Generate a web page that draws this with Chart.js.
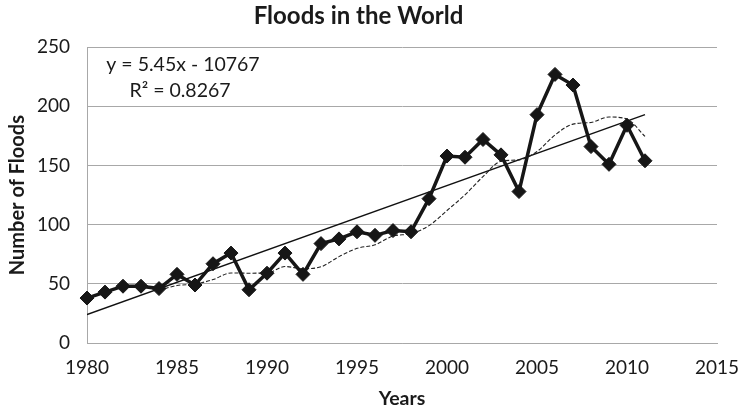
<!DOCTYPE html>
<html>
<head>
<meta charset="utf-8">
<script src="https://cdn.jsdelivr.net/npm/chart.js@4/dist/chart.umd.min.js"></script>
<style>
  html, body { margin: 0; padding: 0; background: #fff; }
  #wrap { width: 740px; height: 410px; }
</style>
</head>
<body>
<div id="wrap"><canvas id="floods"></canvas></div>
<script>
// yearly flood counts
const years = [1980, 1981, 1982, 1983, 1984, 1985, 1986, 1987, 1988, 1989,
               1990, 1991, 1992, 1993, 1994, 1995, 1996, 1997, 1998, 1999,
               2000, 2001, 2002, 2003, 2004, 2005, 2006, 2007, 2008, 2009,
               2010, 2011];
const floods = [38, 43, 48, 48, 46, 58, 49, 67, 76, 45,
                59, 76, 58, 84, 88, 94, 91, 95, 94, 122,
                158, 157, 172, 159, 128, 193, 227, 218, 166, 151,
                184, 154];

// dashed 5-year moving average (starts 1984)
const maYears = [1984, 1985, 1986, 1987, 1988, 1989, 1990, 1991, 1992, 1993,
                 1994, 1995, 1996, 1997, 1998, 1999, 2000, 2001, 2002, 2003,
                 2004, 2005, 2006, 2007, 2008, 2009, 2010, 2011];
const maValues = [44.6, 48.6, 49.8, 53.6, 59.2, 59, 59.2, 64.6, 62.8, 64.4,
                  73, 80, 83, 90.4, 92.4, 99.2, 112, 125.2, 140.6, 153.6,
                  154.8, 161.8, 175.8, 185, 186.4, 191, 189.2, 174.6];

// linear trend line end points
const trendYears = [1980, 2011];
const trendValues = [24, 193];

const equationLines = ["y = 5.45x - 10767", "R\u00b2 = 0.8267"];

const xTicks = [1980, 1985, 1990, 1995, 2000, 2005, 2010, 2015];
const yTicks = [0, 50, 100, 150, 200, 250];

const toPoints = (xs, ys) => xs.map((x, i) => ({ x: x, y: ys[i] }));

const FONT = "Lato, 'Open Sans', sans-serif";
const ink = "#1a1a1a";
const gridGrey = "#a8a8a8";

// trendline equation text, top left of the plot
const equationLabel = {
  id: "equationLabel",
  afterDatasetsDraw(chart) {
    const ctx = chart.ctx;
    ctx.save();
    ctx.font = "19.5px " + FONT;
    ctx.fillStyle = ink;
    ctx.textAlign = "center";
    ctx.textBaseline = "middle";
    ctx.fillText(equationLines[0], 183, 65);
    ctx.fillText(equationLines[1], 180, 91);
    ctx.restore();
  }
};

new Chart(document.getElementById("floods"), {
  type: "scatter",
  data: {
    datasets: [
      {
        label: "Linear",
        data: toPoints(trendYears, trendValues),
        showLine: true,
        borderColor: "#111",
        borderWidth: 1.4,
        pointRadius: 0,
        order: 2
      },
      {
        label: "5 per. Mov. Avg.",
        data: toPoints(maYears, maValues),
        showLine: true,
        borderColor: "#222",
        borderWidth: 1.1,
        borderDash: [4, 2],
        cubicInterpolationMode: "monotone",
        pointRadius: 0,
        order: 1
      },
      {
        label: "Floods",
        data: toPoints(years, floods),
        showLine: true,
        clip: false,
        borderColor: "#161616",
        borderWidth: 3.5,
        pointStyle: "rectRot",
        pointRadius: 7,
        pointBackgroundColor: "#161616",
        pointBorderColor: "#161616",
        pointBorderWidth: 1,
        order: 0
      }
    ]
  },
  options: {
    responsive: true,
    maintainAspectRatio: false,
    animation: false,
    layout: { padding: { left: 0, right: 23, top: 0, bottom: 0 } },
    plugins: {
      legend: { display: false },
      tooltip: { enabled: false },
      title: {
        display: true,
        text: "Floods in the World",
        color: ink,
        font: { family: FONT, size: 24, weight: "bold" },
        padding: { top: 2, bottom: 16.4 }
      }
    },
    scales: {
      x: {
        type: "linear",
        min: xTicks[0],
        max: xTicks[xTicks.length - 1],
        afterBuildTicks: (scale) => { scale.ticks = xTicks.map(v => ({ value: v })); },
        afterFit: (scale) => {
          scale.height = 67;
          scale.paddingLeft = 0;
          scale.paddingRight = 0;
        },
        grid: { display: false, drawTicks: false },
        border: { display: true, color: gridGrey, width: 1 },
        ticks: {
          color: ink,
          padding: 13,
          maxRotation: 0,
          font: { family: FONT, size: 19 },
          callback: (v) => String(v)
        },
        title: {
          display: true,
          text: "Years",
          color: ink,
          font: { family: FONT, size: 19.5, weight: "bold" },
          padding: { top: 0, bottom: 0 }
        }
      },
      y: {
        min: yTicks[0],
        max: yTicks[yTicks.length - 1],
        afterBuildTicks: (scale) => { scale.ticks = yTicks.map(v => ({ value: v })); },
        afterFit: (scale) => {
          scale.width = 87;
          scale.paddingTop = 0;
          scale.paddingBottom = 0;
        },
        grid: { color: gridGrey, lineWidth: 1, drawTicks: false },
        border: { display: true, color: gridGrey, width: 1 },
        ticks: {
          color: ink,
          padding: 17,
          font: { family: FONT, size: 19 }
        },
        title: {
          display: true,
          text: "Number of Floods",
          color: ink,
          font: { family: FONT, size: 20, weight: "bold" },
          padding: { top: 6, bottom: 0 }
        }
      }
    }
  },
  plugins: [equationLabel]
});
</script>
</body>
</html>
